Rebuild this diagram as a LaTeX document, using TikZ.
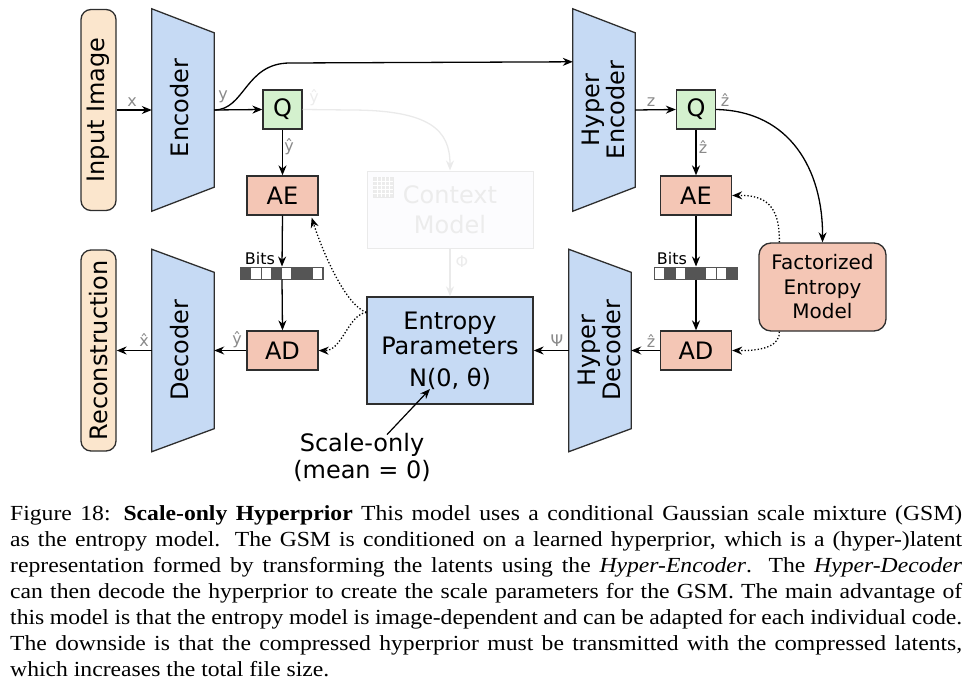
\documentclass[tikz,border=0pt]{standalone}
\usepackage{fontspec}
\setmainfont{DejaVu Sans}
\newfontfamily\capfont[FakeStretch=1.1]{Liberation Serif}
\usetikzlibrary{arrows.meta,calc}
\definecolor{encblue}{HTML}{C6DAF4}
\definecolor{qgreen}{HTML}{D4F1CE}
\definecolor{aesalmon}{HTML}{F4C6B5}
\definecolor{iopeach}{HTML}{FBE6CD}
\definecolor{bordc}{HTML}{2E2E2E}
\definecolor{labgray}{HTML}{8A8A8A}
\definecolor{bitdark}{HTML}{555555}
\definecolor{faintline}{HTML}{EAEAEA}
\definecolor{fainttext}{HTML}{ECECEC}
\definecolor{faintfill}{HTML}{FCFCFE}
\newcommand\capline[1]{\makebox[952pt][s]{#1}}
\begin{document}
\begin{tikzpicture}[x=1pt,y=-1pt,
  box/.style={draw=bordc, line width=1.3pt, inner sep=0pt, font=\fontsize{24}{25}\selectfont, align=center},
  qbox/.style={box, fill=qgreen, minimum width=39pt, minimum height=39pt},
  aebox/.style={box, fill=aesalmon, minimum width=71pt, minimum height=39pt},
  iobox/.style={box, fill=iopeach, rounded corners=10pt, minimum width=35pt, minimum height=201pt},
  frame/.style={inner sep=0pt, minimum width=62pt, minimum height=202pt},
  trap/.style={draw=bordc, line width=1.3pt, fill=encblue},
  rottext/.style={rotate=90, font=\fontsize{24}{23}\selectfont, align=center, inner sep=0pt},
  arr/.style={-{Stealth[length=10pt,width=8pt]}, line width=1.3pt},
  dotarr/.style={arr, dotted, line width=1.3pt},
  lab/.style={text=labgray, font=\fontsize{16}{18}\selectfont, inner sep=0pt},
  faintlab/.style={text=fainttext, font=\fontsize{16}{18}\selectfont, inner sep=0pt},
  bitsbar/.style={draw=bitdark, line width=1pt, minimum width=82pt, minimum height=12pt, inner sep=0pt},
  bitslab/.style={font=\fontsize{16}{18}\selectfont, inner sep=0pt},
  capstyle/.style={anchor=base west, inner sep=0pt, font=\capfont\fontsize{21.5}{26}\selectfont}
]
\useasboundingbox (0,0) rectangle (972,685);

% ---------- faint context model ----------
\node[draw=faintline, fill=faintfill, line width=1pt, minimum width=166pt, minimum height=77pt, inner sep=0pt] (ctx) at (450,209.5) {};
\node[text=fainttext, font=\fontsize{24}{30}\selectfont, align=center, inner sep=0pt] (ctxtxt) at (450,210) {Context\\Model};
\node[draw=faintline, fill=fainttext, minimum size=20pt, inner sep=0pt] (ctxicon) at (383,187) {};
\foreach \k in {1,...,4} {
  \draw[white, line width=0.5pt] ($(ctxicon.north west)+(\k*4,0)$) -- ($(ctxicon.south west)+(\k*4,0)$);
  \draw[white, line width=0.5pt] ($(ctxicon.north west)+(0,\k*4)$) -- ($(ctxicon.north east)+(0,\k*4)$);
}

% ---------- input / output ----------
\node[iobox] (inimg) at (98.5,110) {};
\node[rottext] (inimgtxt) at (inimg.center) {Input Image};
\node[iobox] (recon) at (98.5,350.5) {};
\node[rottext] (recontxt) at (recon.center) {Reconstruction};

% ---------- trapezoids ----------
\node[frame] (enc) at (183,110) {};
\draw[trap] (enc.north west) -- ($(enc.north east)+(0,24)$) -- ($(enc.south east)+(0,-24)$) -- (enc.south west) -- cycle;
\node[rottext] (enctxt) at (180,108) {Encoder};

\node[frame] (dec) at (183,350.5) {};
\draw[trap] (dec.north west) -- ($(dec.north east)+(0,23)$) -- ($(dec.south east)+(0,-23)$) -- (dec.south west) -- cycle;
\node[rottext] (dectxt) at (180,350.5) {Decoder};

\node[frame] (henc) at (604,110) {};
\draw[trap] (henc.north west) -- ($(henc.north east)+(0,24)$) -- ($(henc.south east)+(0,-24)$) -- (henc.south west) -- cycle;
\node[rottext] (henctxt) at (603.5,110) {Hyper\\Encoder};

\node[frame] (hdec) at (600,350.5) {};
\draw[trap] (hdec.north west) -- ($(hdec.north east)+(0,23)$) -- ($(hdec.south east)+(0,-23)$) -- (hdec.south west) -- cycle;
\node[rottext] (hdectxt) at (599.5,350.5) {Hyper\\Decoder};

% ---------- boxes ----------
\node[qbox] (q1) at (282.5,109.5) {Q};
\node[aebox] (ae1) at (282.5,195.5) {AE};
\node[aebox] (ad1) at (282.5,350.5) {AD};
\node[qbox] (q2) at (696,109.5) {Q};
\node[aebox] (ae2) at (696,195.5) {AE};
\node[aebox] (ad2) at (696,350.5) {AD};
\node[box, fill=encblue, minimum width=166pt, minimum height=107pt] (ep) at (450,350.5) {Entropy\\Parameters\\[7pt]N(0, θ)};
\node[box, fill=aesalmon, rounded corners=12pt, minimum width=127pt, minimum height=88pt, font=\fontsize{20}{24.5}\selectfont] (fem) at (822.5,287) {Factorized\\Entropy\\Model};

% ---------- bits ----------
\node[bitsbar] (bits1) at (282,273) {};
\foreach \c [count=\i from 0] in {bitdark,white,white,bitdark,white,bitdark,bitdark,white}
  \draw[draw=bitdark, line width=1pt, fill=\c] ($(bits1.south west)+(\i*10.25,0)$) rectangle ++(10.25,-12);
\node[bitsbar] (bits2) at (696,273) {};
\foreach \c [count=\i from 0] in {white,bitdark,white,bitdark,bitdark,white,white,bitdark}
  \draw[draw=bitdark, line width=1pt, fill=\c] ($(bits2.south west)+(\i*10.25,0)$) rectangle ++(10.25,-12);
\node[bitslab] (bits1lab) at (260,259) {Bits};
\node[bitslab] (bits2lab) at (672,259) {Bits};

% ---------- faint connectors ----------
\draw[-{Stealth[length=10pt,width=8pt]}, line width=1.3pt, draw=faintline] (q1.east) -- (350,110) .. controls (430,110) and (450,130) .. (ctx.north);
\draw[-{Stealth[length=10pt,width=8pt]}, line width=1.3pt, draw=faintline] (ctx.south) -- (ep.north);
\node[faintlab] (yhatfaint) at (314,98) {\^{y}};
\node[faintlab] (phi) at (462,262) {Φ};

% ---------- main connectors ----------
\draw[arr] (inimg.east) -- (enc.west);
\draw[arr] (enc.east) -- (q1.west);
\coordinate (hencin) at ($(henc.north west)+(0,53)$);
\draw[arr] (enc.east) .. controls (245,110) and (245,63) .. (290,63) -- (hencin);
\draw[arr] (q1.south) -- (ae1.north);
\draw[arr] (ae1.south) -- (bits1.north);
\draw[arr] (bits1.south) -- (ad1.north);
\draw[arr] (ad1.west) -- (dec.east);
\draw[arr] (dec.west) -- (recon.east);

\draw[arr] (henc.east) -- (q2.west);
\draw[arr] (q2.south) -- (ae2.north);
\draw[arr] (ae2.south) -- (bits2.north);
\draw[arr] (bits2.south) -- (ad2.north);
\draw[arr] (ad2.west) -- (hdec.east);
\draw[arr] (hdec.west) -- (ep.east);
\draw[arr] (q2.east) .. controls (790,111) and (823,170) .. (fem.north);

% dotted
\coordinate (femtl) at ($(fem.north west)+(21,0)$);
\coordinate (fembl) at ($(fem.south west)+(21,0)$);
\draw[dotarr] (femtl) .. controls (780,205) and (765,195) .. (ae2.east);
\draw[dotarr] (fembl) .. controls (780,345) and (765,351) .. (ad2.east);
\coordinate (epl) at ($(ep.north west)+(0,16)$);
\coordinate (ae1in) at ($(ae1.south east)+(-7,2)$);
\draw[dotarr] (epl) .. controls (345,305) and (322,250) .. (ae1in);
\draw[dotarr] (epl) .. controls (348,315) and (342,351) .. (ad1.east);

% ---------- labels ----------
\node[lab] (lx) at (132,102) {x};
\node[lab] (ly) at (223,97) {y};
\node[lab] (ly2) at (289,147) {\^{y}};
\node[lab] (lz) at (651,102) {z};
\node[lab] (lz2) at (725,100) {\^{z}};
\node[lab] (lz3) at (703,147) {\^{z}};
\node[lab] (lz4) at (651,341) {\^{z}};
\node[lab] (lpsi) at (557,341) {Ψ};
\node[lab] (ly3) at (237,340) {\^{y}};
\node[lab] (lx2) at (144,340) {\^{x}};

% ---------- scale-only note ----------
\node[font=\fontsize{24}{27}\selectfont, align=center, inner sep=0pt] (scl) at (362,457) {Scale-only\\(mean = 0)};
\coordinate (ntheta) at (430,389);
\draw[arr, line width=1.2pt] ([xshift=25pt, yshift=-2pt]scl.north) -- (ntheta);

% ---------- caption ----------
\node[capstyle] (c1) at (10,520) {\capline{Figure 18: \textbf{Scale-only Hyperprior} This model uses a conditional Gaussian scale mixture (GSM)}};
\node[capstyle] (c2) at (10,546) {\capline{as the entropy model. The GSM is conditioned on a learned hyperprior, which is a (hyper-)latent}};
\node[capstyle] (c3) at (10,572) {\capline{representation formed by transforming the latents using the \textit{Hyper-Encoder}. The \textit{Hyper-Decoder}}};
\node[capstyle] (c4) at (10,598) {\capline{can then decode the hyperprior to create the scale parameters for the GSM. The main advantage of}};
\node[capstyle] (c5) at (10,624) {\capline{this model is that the entropy model is image-dependent and can be adapted for each individual code.}};
\node[capstyle] (c6) at (10,650) {\capline{The downside is that the compressed hyperprior must be transmitted with the compressed latents,}};
\node[capstyle] (c7) at (10,676) {which increases the total file size.};
\end{tikzpicture}
\end{document}
